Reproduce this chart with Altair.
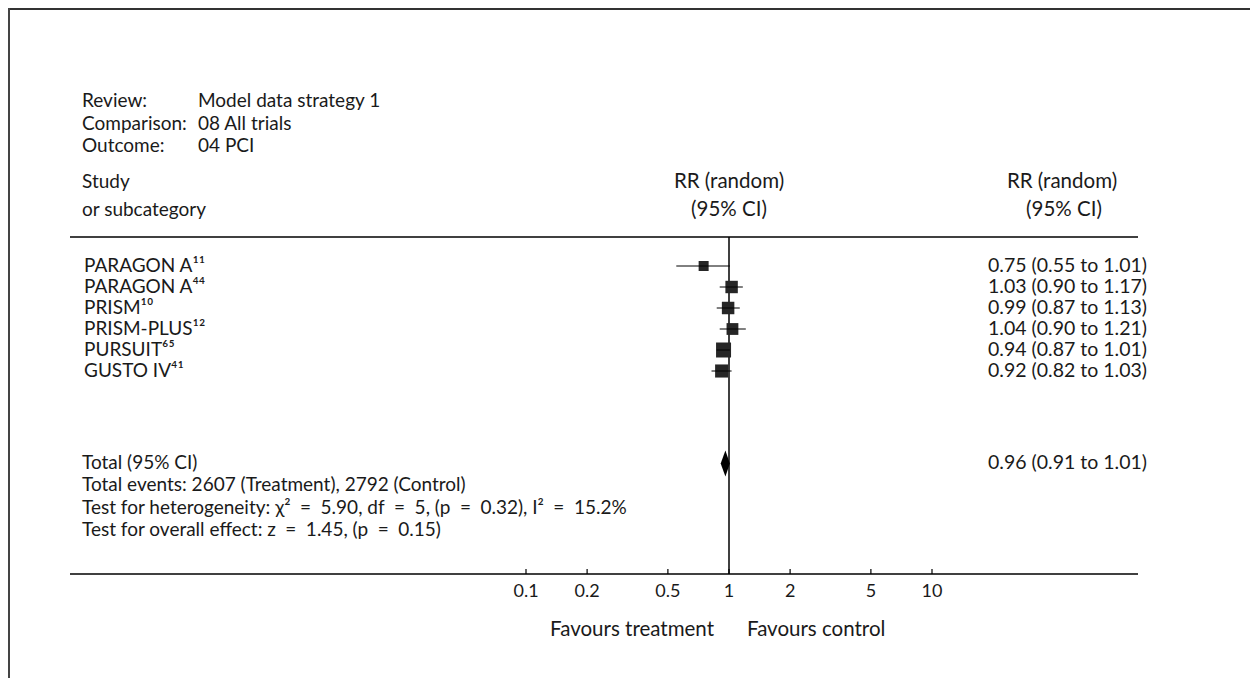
import altair as alt
import pandas as pd

# ---------------- data ----------------
studies = ["PARAGON A¹¹", "PARAGON A⁴⁴", "PRISM¹⁰", "PRISM-PLUS¹²", "PURSUIT⁶⁵", "GUSTO IV⁴¹"]
rr = [0.75, 1.03, 0.99, 1.04, 0.94, 0.92]
ci_low = [0.55, 0.90, 0.87, 0.90, 0.87, 0.82]
ci_high = [1.01, 1.17, 1.13, 1.21, 1.01, 1.03]
weights = [4.9, 16.0, 16.3, 12.9, 30.4, 19.5]  # estimated % weight (random)
total_rr, total_low, total_high = 0.96, 0.91, 1.01
tick_values = [0.1, 0.2, 0.5, 1, 2, 5, 10]
tick_labels = ["0.1", "0.2", "0.5", "1", "2", "5", "10"]

header_keys = ["Review:", "Comparison:", "Outcome:"]
header_vals = ["Model data strategy 1", "08 All trials", "04 PCI"]
EQ = "\u2002=\u2002"
summary_lines = [
    "Total (95% CI)",
    "Total events: 2607 (Treatment), 2792 (Control)",
    f"Test for heterogeneity: χ²{EQ}5.90, df{EQ}5, (p{EQ}0.32), I²{EQ}15.2%",
    f"Test for overall effect: z{EQ}1.45, (p{EQ}0.15)",
]

# ---------------- layout constants ----------------
W, H = 1242, 566
FONT = "Lato"
FS = 19
FS_PLOT = 20.5
FS_VAL = 19.5
FS_TICK = 18
TXT = "#1a1a1a"
LEFT = 74
TOTAL_ROW = 9.4
SUMMARY_ROWS = [9.4, 10.45, 11.5, 12.55]
DIAMOND_HALF = 0.62

xscale = alt.Scale(type="log", domain=[0.1, 10], range=[518, 924], nice=False)
yscale = alt.Scale(domain=[0, 5], range=[258, 363], nice=False, zero=False)

df = pd.DataFrame({
    "study": studies, "rr": rr, "lo": ci_low, "hi": ci_high, "w": weights,
    "row": list(range(len(studies))),
})
df["label"] = [f"{a:.2f} ({b:.2f} to {c:.2f})" for a, b, c in zip(rr, ci_low, ci_high)]

X = alt.X("rr:Q", scale=xscale, axis=None)
Y = alt.Y("row:Q", scale=yscale, axis=None)


def text(t, x, y, align="left", size=FS):
    return alt.Chart(pd.DataFrame({"t": [t]})).mark_text(
        align=align, baseline="middle", font=FONT, fontSize=size, color=TXT
    ).encode(text="t:N", x=alt.value(x), y=alt.value(y))


def hrule(x1, x2, y, w=1.5, color="black"):
    return alt.Chart(pd.DataFrame({"a": [0]})).mark_rule(color=color, strokeWidth=w).encode(
        x=alt.value(x1), x2=alt.value(x2), y=alt.value(y))


layers = []
# frame (top and left edges)
layers.append(hrule(0, W, 1, 2, "#333333"))
layers.append(alt.Chart(pd.DataFrame({"a": [0]})).mark_rule(color="#444444", strokeWidth=2).encode(
    x=alt.value(1), y=alt.value(0), y2=alt.value(670)))

# header block
for i, (k, v) in enumerate(zip(header_keys, header_vals)):
    yy = 93 + i * 22.5
    layers.append(text(k, LEFT, yy))
    layers.append(text(v, 190, yy))
layers.append(text("Study", LEFT, 174))
layers.append(text("or subcategory", LEFT, 202))
layers.append(text("RR (random)", 721, 174, "center", FS_PLOT))
layers.append(text("(95% CI)", 721, 202, "center", FS_PLOT))
layers.append(text("RR (random)", 1054, 174, "center", FS_PLOT))
layers.append(text("(95% CI)", 1056, 202, "center", FS_PLOT))

# separator and axis lines
layers.append(hrule(62, 1130, 229))
layers.append(hrule(62, 1130, 566))
# line of no effect
layers.append(alt.Chart(pd.DataFrame({"v": [1.0]})).mark_rule(color="black", strokeWidth=1.5).encode(
    x=alt.X("v:Q", scale=xscale, axis=None), y=alt.value(229), y2=alt.value(566)))

base = alt.Chart(df)
squares = base.mark_square(filled=True, color="#262626", opacity=1).encode(
    x=X, y=Y,
    size=alt.Size("w:Q", scale=alt.Scale(domain=[min(weights), max(weights)], range=[100, 225]), legend=None),
)
ci = base.mark_rule(color="black", strokeWidth=1).encode(
    x=alt.X("lo:Q", scale=xscale, axis=None), x2="hi:Q", y=Y)
names = base.mark_text(align="left", baseline="middle", font=FONT, fontSize=FS, color=TXT).encode(
    text="study:N", x=alt.value(LEFT + 2), y=Y)
vals = base.mark_text(align="right", baseline="middle", font=FONT, fontSize=FS_VAL, color=TXT).encode(
    text="label:N", x=alt.value(1139), y=Y)
layers += [squares, ci, names, vals]

# diamond for total
dia = pd.DataFrame({
    "x": [total_low, total_rr, total_high],
    "y1": [TOTAL_ROW, TOTAL_ROW - DIAMOND_HALF, TOTAL_ROW],
    "y2": [TOTAL_ROW, TOTAL_ROW + DIAMOND_HALF, TOTAL_ROW],
})
layers.append(alt.Chart(dia).mark_area(color="black", orient="vertical", opacity=1).encode(
    x=alt.X("x:Q", scale=xscale, axis=None),
    y=alt.Y("y1:Q", scale=yscale, axis=None), y2="y2:Q"))
layers.append(alt.Chart(pd.DataFrame({"t": [f"{total_rr:.2f} ({total_low:.2f} to {total_high:.2f})"],
                                      "row": [TOTAL_ROW]})).mark_text(
    align="right", baseline="middle", font=FONT, fontSize=FS_VAL, color=TXT).encode(
    text="t:N", x=alt.value(1139), y=Y))

summ = pd.DataFrame({"t": summary_lines, "row": SUMMARY_ROWS})
layers.append(alt.Chart(summ).mark_text(align="left", baseline="middle", font=FONT, fontSize=FS, color=TXT).encode(
    text="t:N", x=alt.value(LEFT), y=Y))

# ticks and tick labels
ticks = pd.DataFrame({"v": tick_values, "lab": tick_labels})
layers.append(alt.Chart(ticks).mark_rule(color="black", strokeWidth=1.2).encode(
    x=alt.X("v:Q", scale=xscale, axis=None), y=alt.value(561), y2=alt.value(566)))
layers.append(alt.Chart(ticks).mark_text(align="center", baseline="middle", font=FONT, fontSize=FS_TICK, color=TXT).encode(
    x=alt.X("v:Q", scale=xscale, axis=None), text="lab:N", y=alt.value(584)))

layers.append(text("Favours treatment", 706, 622, "right", FS_PLOT))
layers.append(text("Favours control", 739, 622, "left", FS_PLOT))

chart = alt.layer(*layers).properties(
    width=W, height=H, autosize=alt.AutoSizeParams(type="none"),
    padding={"left": 0, "top": 0, "right": 0, "bottom": 104},
).configure_view(stroke=None)

chart.save("out.html", embed_options={"renderer": "svg", "actions": False})
